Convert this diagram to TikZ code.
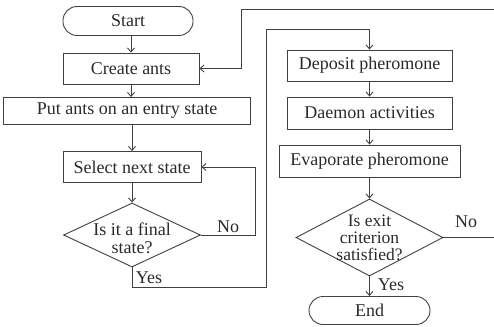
\documentclass[tikz,border=0pt]{standalone}
\usepackage{fontspec}
\setmainfont{Liberation Serif}
\usetikzlibrary{shapes.geometric,arrows.meta}
\definecolor{ln}{HTML}{404040}
\definecolor{tx}{HTML}{2A2A2A}
\begin{document}
\begin{tikzpicture}[x=1pt,y=-1pt,
  every node/.style={font=\fontsize{18}{19}\selectfont, text=tx},
  box/.style={draw=ln, line width=0.9pt, rectangle, inner sep=0pt},
  term/.style={draw=ln, line width=0.9pt, rectangle, rounded corners=14pt, inner sep=0pt},
  dia/.style={draw=ln, line width=0.9pt, diamond, inner sep=0pt},
  con/.style={draw=ln, line width=0.9pt},
  arr/.style={con, -{Straight Barb[length=4pt,width=7pt]}},
  lab/.style={inner sep=1pt}]
\useasboundingbox (0,0) rectangle (494,326);
\node[term, minimum width=130pt, minimum height=29pt] (start) at (128,21) {Start};
\node[box, minimum width=136pt, minimum height=31pt] (create) at (131,68.5) {Create ants};
\node[box, minimum width=247pt, minimum height=27pt] (put) at (127,111) {Put ants on an entry state};
\node[box, minimum width=138pt, minimum height=31pt] (select) at (132,167) {Select next state};
\node[dia, minimum width=137pt, minimum height=64pt] (d1) at (132,235) {};
\node[align=center, font=\fontsize{18}{18}\selectfont] (d1t) at (132,238.5) {Is it a final\\state?};
\node[box, minimum width=165pt, minimum height=31pt] (dep) at (369.5,65.5) {Deposit pheromone};
\node[box, minimum width=165pt, minimum height=32pt] (dae) at (369.5,113) {Daemon activities};
\node[box, minimum width=181pt, minimum height=32pt] (eva) at (369.5,161) {Evaporate pheromone};
\node[dia, minimum width=147pt, minimum height=77pt] (d2) at (369.5,237.5) {};
\node[align=center, font=\fontsize{17.5}{17}\selectfont] (d2t) at (369.5,237.5) {Is exit\\criterion\\satisfied?};
\node[term, minimum width=121pt, minimum height=28pt] (end) at (369.5,310.5) {End};
\coordinate (nor) at (255,235);
\coordinate (yb) at (266,287);
\coordinate (yt) at (266,29);
\coordinate (fr) at (500,237.5);
\coordinate (ft) at (241,9);
\draw[arr] (create.north |- start.south) -- (create.north);
\draw[arr] (create.south) -- (create.south |- put.north);
\draw[arr] (select.north |- put.south) -- (select.north);
\draw[arr] (select) -- (d1);
\draw[arr] (d1.east) -- (nor) |- (select.east);
\draw[arr] (d1.south) |- (yb) -- (yt) -| (dep.north);
\draw[arr] (dep) -- (dae);
\draw[arr] (dae) -- (eva);
\draw[arr] (eva) -- (d2);
\draw[arr] (d2) -- (end);
\draw[arr] (d2.east) -- (fr) |- (ft) |- (create.east);
\node[lab] (no1) at (228,227) {No};
\node[lab] (yes1) at (149,278) {Yes};
\node[lab] (no2) at (466,222) {No};
\node[lab] (yes2) at (391,285) {Yes};
\end{tikzpicture}
\end{document}
